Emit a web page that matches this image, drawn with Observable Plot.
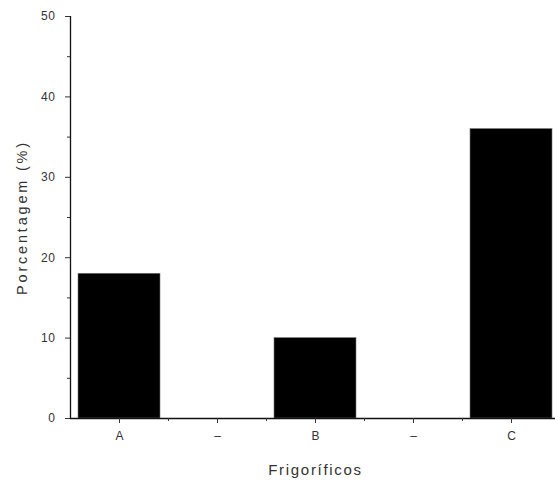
<!DOCTYPE html>
<html><head><meta charset="utf-8">
<script src="https://cdn.jsdelivr.net/npm/d3@7"></script>
<script src="https://cdn.jsdelivr.net/npm/@observablehq/plot@0.6"></script>
<style>html,body{margin:0;background:#fff;overflow:hidden;width:555px;height:484px}svg{overflow:hidden}
.ylab text{letter-spacing:2.8px}.xlab text{letter-spacing:1.7px}.yt text{letter-spacing:0.6px}</style>
</head><body><div id="chart"></div>
<script>
const categories = ["A", "d1", "B", "d2", "C"];
const tickLabels = ["A", "–", "B", "–", "C"];
const barCats = ["A", "B", "C"];
const barValues = [18, 10, 36];
const yMajor = [0, 10, 20, 30, 40, 50];
const yMinor = [5, 15, 25, 35, 45];

const data = barCats.map((c, i) => ({cat: c, value: barValues[i]}));
const font = "Liberation Sans, Arial, sans-serif";

const chart = Plot.plot({
  width: 555, height: 484,
  marginLeft: 70, marginRight: -5, marginTop: 16, marginBottom: 66,
  style: {fontFamily: font, fontSize: "12px", color: "#333", background: "white", overflow: "hidden"},
  x: {domain: categories, paddingInner: 0.16, paddingOuter: 0.08, axis: null},
  y: {domain: [0, 50], axis: null},
  marks: [
    Plot.barY(data, {x: "cat", y: "value", fill: "black", stroke: "#777", strokeWidth: 0.6}),
    Plot.ruleY([0], {stroke: "#111", strokeWidth: 1.3}),
    Plot.ruleX([categories[0]], {y1: 0, y2: 50, dx: -49, stroke: "#111", strokeWidth: 1.3}),
    Plot.axisY({ticks: yMajor, tickSize: 5, tickPadding: 10, fontSize: 12, label: null, className: "yt"}),
    Plot.axisY({ticks: yMinor, tickSize: 3, tickFormat: () => "", label: null}),
    Plot.axisX({ticks: categories, tickSize: 5, tickPadding: 8, fontSize: 12,
      tickFormat: d => tickLabels[categories.indexOf(d)], label: null}),
    Plot.axisX({ticks: categories.slice(1), tickSize: 3, dx: -49, tickFormat: () => "", label: null}),
    Plot.text(["Frigoríficos"], {frameAnchor: "bottom", dy: 56, fontSize: 15, fill: "#333", className: "xlab"}),
    Plot.text(["Porcentagem (%)"], {frameAnchor: "left", textAnchor: "middle", dx: -48, rotate: -90, fontSize: 14.5, fill: "#333", className: "ylab"})
  ]
});
document.getElementById("chart").append(chart);
</script>
</body></html>
